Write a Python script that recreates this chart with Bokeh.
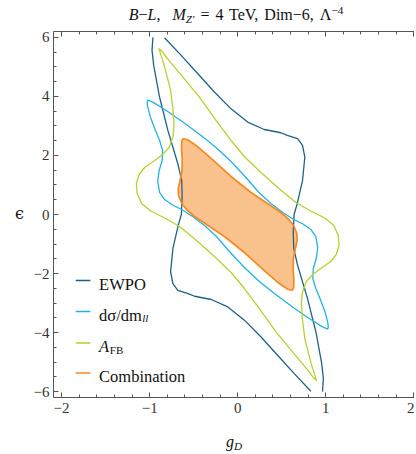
import numpy as np
from bokeh.plotting import figure
from bokeh.models import Range1d, LinearAxis, FixedTicker, Label, Div
from bokeh.layouts import column, row
from bokeh.embed import file_html
from bokeh.resources import INLINE

# ---------------- data ----------------
# EWPO contour: two open branches, cut by the scan range at |eps| = 6
ewpo_left_x = [-0.963, -0.973, -0.954, -0.888, -0.793, -0.680, -0.636, -0.631, -0.640, -0.675,
               -0.736, -0.762, -0.736, -0.680, -0.563, -0.490, -0.301, -0.113, 0.076, 0.265,
               0.453, 0.642, 0.831]
ewpo_left_y = [6.00, 5.56, 5.05, 3.98, 2.85, 1.72, 1.15, 0.59, 0.00, -0.36,
               -1.15, -1.94, -2.34, -2.57, -2.68, -2.77, -2.88, -3.13, -3.58, -4.15,
               -4.77, -5.39, -5.99]
ewpo_right_x = [0.963, 0.973, 0.954, 0.888, 0.793, 0.680, 0.636, 0.631, 0.640, 0.675,
                0.736, 0.762, 0.736, 0.680, 0.563, 0.490, 0.301, 0.113, -0.076, -0.265,
                -0.453, -0.642, -0.831]
ewpo_right_y = [-6.00, -5.56, -5.05, -3.98, -2.85, -1.72, -1.15, -0.59, 0.00, 0.36,
                1.15, 1.94, 2.34, 2.57, 2.68, 2.77, 2.88, 3.13, 3.58, 4.15,
                4.77, 5.39, 5.99]

# d sigma / d m_ll contour (closed)
dsig_x = [-1.022, -0.959, -0.812, -0.631, -0.416, -0.246, -0.076, 0.094, 0.241, 0.377,
          0.513, 0.626, 0.740, 0.830, 0.887, 0.909, 0.892, 0.858, 0.853, 0.887,
          0.943, 0.994, 1.023, 1.028,
          1.022, 0.959, 0.812, 0.631, 0.416, 0.246, 0.076, -0.094, -0.241, -0.377,
          -0.513, -0.626, -0.740, -0.830, -0.887, -0.909, -0.892, -0.858, -0.853, -0.887,
          -0.943, -0.994, -1.023, -1.028, -1.022]
dsig_y = [3.881, 3.797, 3.525, 3.153, 2.678, 2.271, 1.797, 1.254, 0.746, 0.373,
          0.068, -0.153, -0.322, -0.508, -0.746, -1.119, -1.492, -1.831, -2.169, -2.508,
          -2.915, -3.322, -3.661, -3.797,
          -3.881, -3.797, -3.525, -3.153, -2.678, -2.271, -1.797, -1.254, -0.746, -0.373,
          -0.068, 0.153, 0.322, 0.508, 0.746, 1.119, 1.492, 1.831, 2.169, 2.508,
          2.915, 3.322, 3.661, 3.797, 3.881]

# A_FB contour (closed)
afb_x = [-0.895, -0.863, -0.812, -0.623, -0.435, -0.246, -0.076, 0.075, 0.264, 0.468,
         0.660, 0.830, 0.989, 1.091, 1.142, 1.151, 1.119, 1.057, 0.943, 0.853,
         0.779, 0.734, 0.723, 0.734, 0.762, 0.802, 0.841, 0.875,
         0.895, 0.863, 0.812, 0.623, 0.435, 0.246, 0.076, -0.075, -0.264, -0.468,
         -0.660, -0.830, -0.989, -1.091, -1.142, -1.151, -1.119, -1.057, -0.943, -0.853,
         -0.779, -0.734, -0.723, -0.734, -0.762, -0.802, -0.841, -0.875, -0.895]
afb_y = [5.627, 5.542, 5.332, 4.654, 3.976, 3.186, 2.508, 1.966, 1.424, 0.881,
         0.407, 0.119, -0.119, -0.373, -0.712, -1.051, -1.356, -1.593, -1.831, -2.034,
         -2.271, -2.644, -3.017, -3.525, -4.203, -4.678, -5.119, -5.424,
         -5.627, -5.542, -5.332, -4.654, -3.976, -3.186, -2.508, -1.966, -1.424, -0.881,
         -0.407, -0.119, 0.119, 0.373, 0.712, 1.051, 1.356, 1.593, 1.831, 2.034,
         2.271, 2.644, 3.017, 3.525, 4.203, 4.678, 5.119, 5.424, 5.627]

# Combination region (filled)
comb_x = [-0.638, -0.636, -0.619, -0.574, -0.472, -0.302, -0.076, 0.151, 0.320, 0.490,
          0.581, 0.638, 0.672, 0.675, 0.655, 0.632, 0.630,
          0.638, 0.636, 0.619, 0.574, 0.472, 0.302, 0.076, -0.151, -0.320, -0.490,
          -0.581, -0.638, -0.672, -0.675, -0.655, -0.632, -0.630, -0.638]
comb_y = [2.237, 2.475, 2.566, 2.542, 2.339, 1.898, 1.288, 0.746, 0.407, 0.068,
          -0.169, -0.390, -0.644, -0.881, -1.153, -1.492, -1.898,
          -2.237, -2.475, -2.566, -2.542, -2.339, -1.898, -1.288, -0.746, -0.407, -0.068,
          0.169, 0.390, 0.644, 0.881, 1.153, 1.492, 1.898, 2.237]

x_ticks = [-2, -1, 0, 1, 2]
x_tick_labels = ["\u22122", "\u22121", "0", "1", "2"]
y_ticks = [-6, -4, -2, 0, 2, 4, 6]
y_tick_labels = ["\u22126", "\u22124", "\u22122", "0", "2", "4", "6"]
legend_labels = ["EWPO", "d\u03c3/dm", "A", "Combination"]

# ---------------- styling / layout ----------------
C_EWPO = "#1f6287"
C_DSIG = "#20b3e3"
C_AFB = "#b6d130"
C_COMB = "#f58a24"
C_FILL = "#f9c28d"
SERIF = "'Liberation Serif', serif"
SERIF_HTML = "Liberation Serif"

TITLE_H, EPS_W, XLAB_H = 24, 30, 24
FW, FH = 384, 404
BL, BR, BT, BB = 22, 0, 7, 31
FRAME_W = FW - BL - BR            # 362
FRAME_H = FH - BT - BB            # 366
FRAME_LEFT = EPS_W + BL           # page px of frame left (52)
FRAME_TOP = TITLE_H + BT          # page px of frame top (31)
PX_PER_X = 88.3
X0 = -2.092
X1 = X0 + FRAME_W / PX_PER_X
Y0, Y1 = -6.2, 6.2


def dx(px):
    # page pixel -> data x (legend placement inside the frame)
    return X0 + (px - FRAME_LEFT) * (X1 - X0) / FRAME_W


def dy(py):
    return Y1 - (py - FRAME_TOP) * (Y1 - Y0) / FRAME_H


p = figure(width=FW, height=FH, x_range=Range1d(X0, X1), y_range=Range1d(Y0, Y1),
           output_backend="svg", toolbar_location=None,
           min_border_left=BL, min_border_right=BR, min_border_top=BT, min_border_bottom=BB,
           margin=(0, 0, 0, 0))
p.grid.visible = False
p.outline_line_color = None
p.background_fill_color = "white"
p.border_fill_color = "white"

xt = FixedTicker(ticks=x_ticks, minor_ticks=list(np.round(np.arange(-2.0, 2.01, 0.2), 2)))
yt = FixedTicker(ticks=y_ticks, minor_ticks=list(np.arange(-6.0, 6.01, 0.5)))


def style_axis(ax):
    ax.axis_line_color = "#555555"
    ax.axis_line_width = 1
    ax.major_tick_line_color = "#555555"
    ax.minor_tick_line_color = "#555555"
    ax.major_tick_in = 5
    ax.major_tick_out = 0
    ax.minor_tick_in = 3
    ax.minor_tick_out = 0
    ax.major_label_text_font = SERIF
    ax.major_label_text_font_size = "15px"
    ax.major_label_text_color = "#333333"


p.xaxis.ticker = xt
p.yaxis.ticker = yt
p.xaxis.major_label_overrides = {t: s for t, s in zip(x_ticks, x_tick_labels)}
p.yaxis.major_label_overrides = {t: s for t, s in zip(y_ticks, y_tick_labels)}
p.xaxis.major_label_standoff = 5
p.yaxis.major_label_standoff = 4
style_axis(p.xaxis[0])
style_axis(p.yaxis[0])

top = LinearAxis(ticker=xt)
style_axis(top)
top.major_label_overrides = {t: "" for t in x_ticks}
top.major_label_standoff = 0
p.add_layout(top, "above")

# ---------------- glyphs ----------------
p.patch(comb_x, comb_y, fill_color=C_FILL, line_color=None)
p.line(ewpo_left_x, ewpo_left_y, line_color=C_EWPO, line_width=1.3)
p.line(ewpo_right_x, ewpo_right_y, line_color=C_EWPO, line_width=1.3)
p.line(dsig_x, dsig_y, line_color=C_DSIG, line_width=1.3)
p.line(afb_x, afb_y, line_color=C_AFB, line_width=1.3)
p.line(comb_x, comb_y, line_color=C_COMB, line_width=1.7)


def txt(px, py, s, size, style="normal", font=SERIF, color="#111111"):
    p.add_layout(Label(x=dx(px), y=dy(py), text=s, text_font=font, text_font_size=f"{size}px",
                       text_font_style=style, text_color=color, text_align="left",
                       text_baseline="alphabetic"))


# legend (inside the frame)
sw_y = [280.0, 311.0, 342.5, 372.5]
tx_y = [283.5, 314.8, 346.0, 376.0]
colors = [C_EWPO, C_DSIG, C_AFB, C_COMB]
p.segment(x0=[dx(74.3)] * 4, x1=[dx(89.0)] * 4, y0=[dy(v) for v in sw_y], y1=[dy(v) for v in sw_y],
          line_color=colors, line_width=1.4)
txt(97.7, tx_y[0], legend_labels[0], 16.5)
txt(97.7, tx_y[1], legend_labels[1], 16.5)
txt(141.0, tx_y[1] + 3, "ll", 11, "italic")
txt(97.7, tx_y[2], legend_labels[2], 16.5, "italic")
txt(108.5, tx_y[2] + 3, "FB", 11)
txt(97.7, tx_y[3], legend_labels[3], 16.5)

# ---------------- texts outside the frame (HTML) ----------------
SUB = "font-size:70%;line-height:0;vertical-align:-0.28em"
SUP = "font-size:70%;line-height:0;vertical-align:0.5em"
title_html = (
    f'<div style="margin-left:64px;width:344px;padding-top:7px;text-align:center;'
    f'font-family:\'{SERIF_HTML}\';font-size:16px;line-height:16px;color:#111;white-space:nowrap;'
    f'word-spacing:2px">'
    f'<i>B</i>\u2212<i>L</i>, &nbsp;<i>M</i><span style="{SUB}"><i>Z\u2032</i></span> = 4 TeV, '
    f'Dim\u22126, \u039b<span style="{SUP}">\u22124</span></div>'
)
title_div = Div(text=title_html, width=EPS_W + FW, height=TITLE_H, margin=(0, 0, 0, 0))

eps_div = Div(
    text=(f'<div style="padding-left:15px;padding-top:{214 - TITLE_H - 10}px;text-align:left;'
          f'font-family:\'DejaVu Serif\';font-size:16px;line-height:20px;color:#111">\u03f5</div>'),
    width=EPS_W, height=FH, margin=(0, 0, 0, 0))

xlab_div = Div(
    text=(f'<div style="margin-left:84px;width:300px;padding-top:6px;text-align:center;'
          f'font-family:\'{SERIF_HTML}\';font-size:16px;line-height:16px;color:#111">'
          f'<i>g</i><span style="{SUB}"><i>D</i></span></div>'),
    width=EPS_W + FW, height=XLAB_H, margin=(0, 0, 0, 0))

layout = column(title_div, row(eps_div, p, spacing=0, margin=(0, 0, 0, 0)), xlab_div,
                spacing=0, margin=(0, 0, 0, 0))

open("out.html", "w").write(file_html(layout, INLINE))
